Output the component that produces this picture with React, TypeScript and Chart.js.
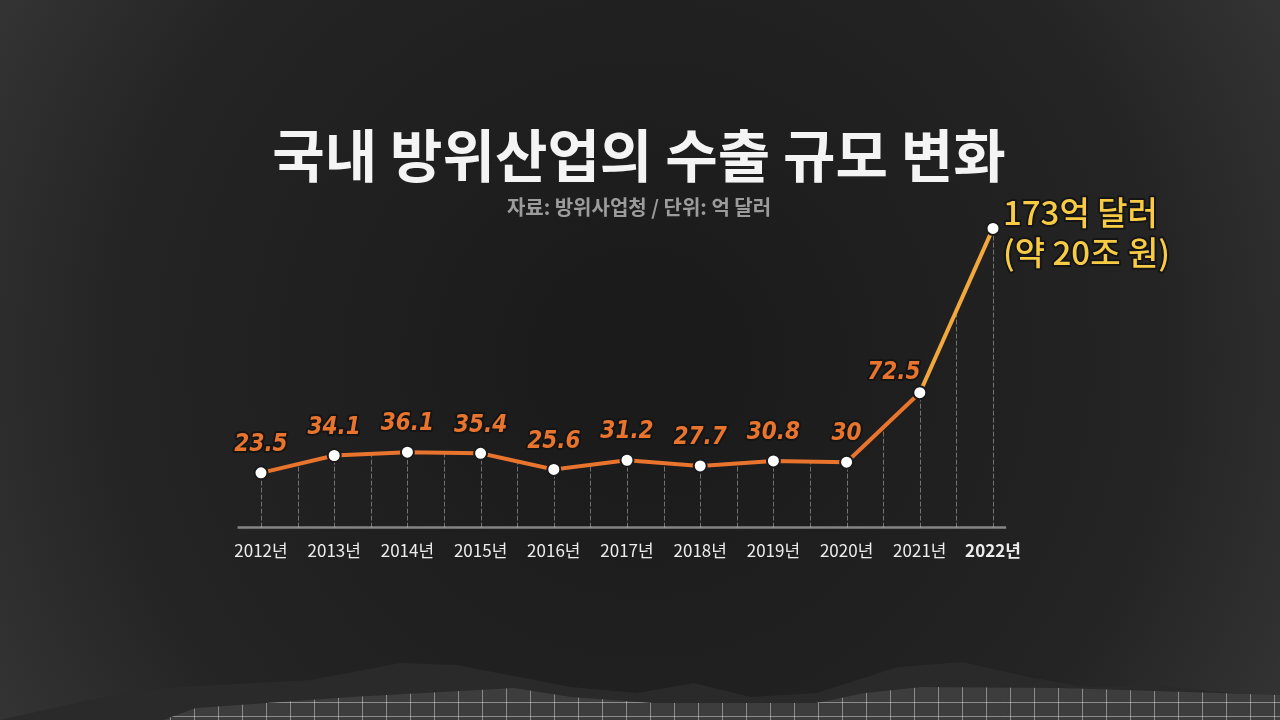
import { useEffect, useRef } from 'react';
import { Chart, registerables } from 'chart.js';

Chart.register(...registerables);

const years = ['2012년', '2013년', '2014년', '2015년', '2016년', '2017년', '2018년', '2019년', '2020년', '2021년', '2022년'];
const exportValues = [23.5, 34.1, 36.1, 35.4, 25.6, 31.2, 27.7, 30.8, 30, 72.5, 173];
const lastNote = ['173억 달러', '(약 20조 원)'];

const ORANGE = '#e8742e';
const AMBER = '#f2a83c';
const YELLOW = '#f8cb45';

const backdrop = {
  id: 'backdrop',
  beforeDraw(chart: any) {
    const { ctx, width, height } = chart;
    ctx.save();
    const g = ctx.createRadialGradient(width / 2, height / 2, 80, width / 2, height / 2, 820);
    g.addColorStop(0, '#1b1b1b');
    g.addColorStop(0.6, '#242424');
    g.addColorStop(1, '#3a3a3a');
    ctx.fillStyle = g;
    ctx.fillRect(0, 0, width, height);

    // torn paper strip at the bottom
    const torn = [[0, 720], [90, 700], [163, 688], [310, 680], [400, 663], [457, 665], [571, 687], [637, 693], [694, 683], [751, 697], [816, 693], [898, 667], [963, 662], [1029, 677], [1086, 687], [1143, 685], [1280, 697], [1280, 720]];
    ctx.beginPath();
    torn.forEach(([x, y], i) => (i ? ctx.lineTo(x, y) : ctx.moveTo(x, y)));
    ctx.closePath();
    ctx.fillStyle = '#2a2a2a';
    ctx.fill();
    const paper = [[163, 720], [196, 708], [351, 697], [514, 688], [571, 697], [653, 703], [735, 703], [816, 703], [865, 693], [922, 687], [1061, 688], [1280, 695], [1280, 720]];
    ctx.beginPath();
    paper.forEach(([x, y], i) => (i ? ctx.lineTo(x, y) : ctx.moveTo(x, y)));
    ctx.closePath();
    ctx.fillStyle = '#3d3d3d';
    ctx.fill();
    ctx.save();
    ctx.clip();
    ctx.strokeStyle = 'rgba(235,235,235,0.45)';
    ctx.lineWidth = 1;
    for (let x = 170; x < 1280; x += 24) {
      ctx.beginPath();
      ctx.moveTo(x + 0.5, 680);
      ctx.lineTo(x + 0.5, 720);
      ctx.stroke();
    }
    for (let y = 702; y < 720; y += 14) {
      ctx.beginPath();
      ctx.moveTo(160, y + 0.5);
      ctx.lineTo(1280, y + 0.5);
      ctx.stroke();
    }
    ctx.restore();
    ctx.restore();
  },
};

const dropLines = {
  id: 'dropLines',
  beforeDatasetsDraw(chart: any) {
    const { ctx, chartArea } = chart;
    const pts = chart.getDatasetMeta(0).data;
    const base = chartArea.bottom;
    const step = pts[1].x - pts[0].x;
    ctx.save();
    ctx.strokeStyle = 'rgba(215,215,215,0.45)';
    ctx.lineWidth = 1;
    ctx.setLineDash([5, 2]);
    pts.forEach((p: any, i: number) => {
      ctx.beginPath();
      ctx.moveTo(Math.round(p.x) + 0.5, base);
      ctx.lineTo(Math.round(p.x) + 0.5, p.y);
      ctx.stroke();
      if (i < pts.length - 1) {
        const q = pts[i + 1];
        const mx = (p.x + q.x) / 2;
        const my = (p.y + q.y) / 2;
        ctx.beginPath();
        ctx.moveTo(Math.round(mx) + 0.5, base);
        ctx.lineTo(Math.round(mx) + 0.5, my);
        ctx.stroke();
      }
    });
    ctx.setLineDash([]);
    ctx.strokeStyle = 'rgba(200,200,200,0.6)';
    ctx.lineWidth = 2.5;
    ctx.beginPath();
    ctx.moveTo(chartArea.left - step * 0.32, base);
    ctx.lineTo(chartArea.right + step * 0.18, base);
    ctx.stroke();
    ctx.restore();
  },
};

const valueTags = {
  id: 'valueTags',
  afterDatasetsDraw(chart: any) {
    const { ctx } = chart;
    const pts = chart.getDatasetMeta(0).data;
    const n = pts.length;
    ctx.save();
    ctx.lineJoin = 'round';
    ctx.textBaseline = 'middle';
    ctx.font = 'italic bold 24px "DejaVu Sans Condensed", "DejaVu Sans", sans-serif';
    pts.forEach((p: any, i: number) => {
      if (i === n - 1) return;
      const text = String(exportValues[i]);
      let x = p.x;
      let y = p.y - 28;
      ctx.textAlign = 'center';
      if (i === n - 2) {
        x = p.x - 26;
        y = p.y - 20;
      }
      ctx.strokeStyle = '#151515';
      ctx.lineWidth = 4;
      ctx.strokeText(text, x, y);
      ctx.fillStyle = ORANGE;
      ctx.fillText(text, x, y);
    });
    const last = pts[n - 1];
    ctx.textAlign = 'left';
    ctx.font = '500 33px "Noto Sans CJK KR", sans-serif';
    lastNote.forEach((line, k) => {
      const x = last.x + 10;
      const y = last.y - 16 + k * 40;
      ctx.strokeStyle = '#151515';
      ctx.lineWidth = 4;
      ctx.strokeText(line, x, y);
      ctx.fillStyle = YELLOW;
      ctx.fillText(line, x, y);
    });
    ctx.restore();
  },
};

// blank side axes that hold the plot between x=261 and x=993 while the
// title stays centred on the page
const blankAxis = (width: number) => ({
  display: true,
  grid: { display: false, drawTicks: false },
  border: { display: false },
  ticks: { display: false },
  afterFit: (scale: any) => {
    scale.width = width;
  },
});

const ExportChart: React.FC = () => {
  const canvasRef = useRef<HTMLCanvasElement>(null);

  useEffect(() => {
    if (!canvasRef.current) return;
    const n = exportValues.length;
    const chart = new Chart(canvasRef.current, {
      type: 'line',
      data: {
        labels: years,
        datasets: [
          {
            label: '수출 규모',
            data: exportValues,
            yAxisID: 'y',
            borderColor: ORANGE,
            borderWidth: 4,
            tension: 0,
            pointRadius: 6.5,
            pointBackgroundColor: '#ffffff',
            pointBorderColor: '#1a1a1a',
            pointBorderWidth: 2,
            segment: {
              borderColor: (ctx: any) => (ctx.p1DataIndex === n - 1 ? AMBER : ORANGE),
            },
          },
        ],
      },
      options: {
        animation: false,
        responsive: true,
        maintainAspectRatio: false,
        layout: { padding: { top: 100, left: 20, right: 22, bottom: 146 } },
        plugins: {
          legend: { display: false },
          tooltip: { enabled: false },
          title: {
            display: true,
            text: '국내 방위산업의 수출 규모 변화',
            color: '#f4f4f4',
            font: { family: '"Noto Sans CJK KR", sans-serif', size: 57, weight: 'bold', lineHeight: 1.2 },
            padding: { top: 21, bottom: 2 },
          },
          subtitle: {
            display: true,
            text: '자료: 방위사업청 / 단위: 억 달러',
            color: '#9c9c9c',
            font: { family: '"Noto Sans CJK KR", sans-serif', size: 20, weight: 'bold', lineHeight: 1.2 },
            padding: { top: 4, bottom: 0 },
          },
        },
        scales: {
          x: {
            offset: false,
            grid: { display: false, drawTicks: false },
            border: { display: false },
            ticks: {
              color: '#ececec',
              padding: 13,
              autoSkip: false,
              maxRotation: 0,
              font: (ctx: any) => ({
                family: '"Noto Sans CJK KR", sans-serif',
                size: 17,
                weight: ctx.index === n - 1 ? 'bold' : 'normal',
                lineHeight: 1.2,
              }),
            },
          },
          y: { ...blankAxis(241), position: 'left', min: -10, max: 178.5 },
          y2: { ...blankAxis(265), position: 'right', min: -10, max: 178.5 },
        },
      },
      plugins: [backdrop, dropLines, valueTags],
    });
    return () => chart.destroy();
  }, []);

  return (
    <div style={{ position: 'fixed', left: 0, top: 0, width: 1280, height: 720 }}>
      <canvas ref={canvasRef}></canvas>
    </div>
  );
};

export default function App() {
  return <ExportChart />;
}
